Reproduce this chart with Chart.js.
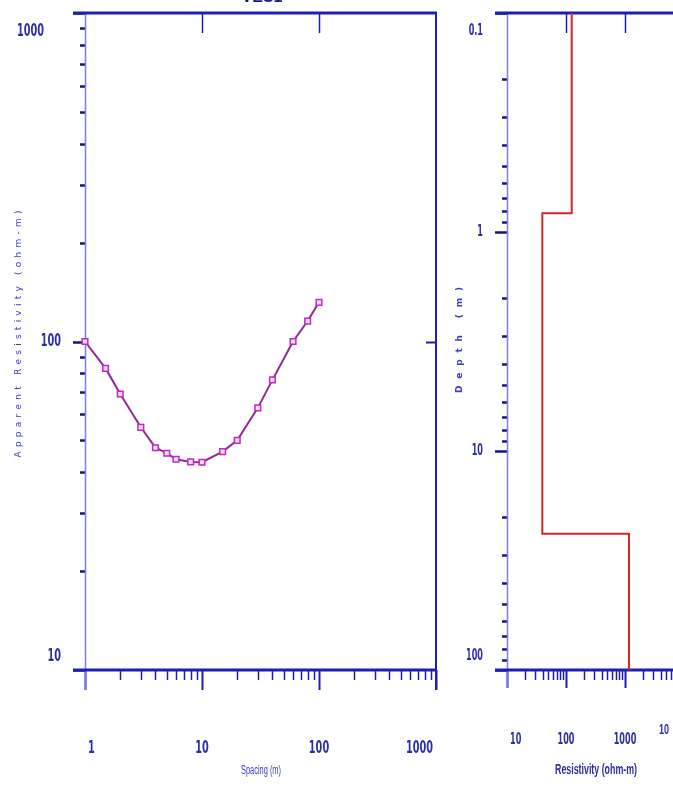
<!DOCTYPE html>
<html><head><meta charset="utf-8">
<script src="https://cdn.jsdelivr.net/npm/chart.js@4/dist/chart.umd.min.js"></script>
<style>
html,body{margin:0;padding:0;background:#fff;overflow:hidden;width:673px;height:787px}
#c1{position:absolute;left:0;top:0}
#c2{position:absolute;left:440px;top:0}
</style></head><body>
<canvas id="c1" width="460" height="787"></canvas>
<canvas id="c2" width="260" height="787"></canvas>
<script>
// ---- data ----
const plotTitle = 'VES1';
const spacing = [1, 1.5, 2, 3, 4, 5, 6, 8, 10, 15, 20, 30, 40, 60, 80, 100];
const apparentRes = [100, 82.8, 69.2, 54.8, 47.5, 45.7, 43.8, 43.0, 42.9, 46.2, 50.0, 62.8, 76.4, 100, 115.4, 131.6];
const spacingTickLabels = ['1', '10', '100', '1000'];
const appResTickLabels = ['10', '100', '1000'];
const layerRes = [125, 39.7, 1170];
const layerBottomDepth = [0.82, 23.9];
const depthTickLabels = ['0.1', '1', '10', '100'];
const resTickLabels = ['10', '100', '1000'];
const extraEdgeLabel = '10';

// ---- styles ----
const DARK = '#1e1eb6', NAVY = '#15157c', LIGHT = '#7c7cf2', TXT = '#2d2da8', TTL = '#3a3ad2';

function sq(ctx, text, x, y, font, color, sx, align) {
  ctx.save(); ctx.font = font; ctx.fillStyle = color; ctx.textBaseline = 'middle';
  ctx.translate(x, y); ctx.scale(sx, 1); ctx.textAlign = align || 'center';
  ctx.fillText(text, 0, 0); ctx.restore();
}
function sqFit(ctx, text, cx, cy, font, color, w) {
  ctx.save(); ctx.font = font; const m = ctx.measureText(text).width; ctx.restore();
  sq(ctx, text, cx, cy, font, color, w / m, 'center');
}
function spaced(ctx, text, cx, cy, len, font, color) {
  ctx.save(); ctx.font = font; ctx.fillStyle = color; ctx.textBaseline = 'middle'; ctx.textAlign = 'left';
  ctx.translate(cx, cy); ctx.rotate(-Math.PI / 2);
  const ch = [...text]; const ws = ch.map(c => ctx.measureText(c).width);
  const W = ws.reduce((a, b) => a + b, 0); const gap = (len - W) / (ch.length - 1);
  let p = -len / 2; ch.forEach((c, i) => { ctx.fillText(c, p, 0); p += ws[i] + gap; });
  ctx.restore();
}

function makeAxes(o) {
  return {
    id: 'axes_' + o.name,
    beforeDatasetsDraw(chart) {
      const ctx = chart.ctx, a = chart.chartArea, xs = chart.scales.x, ys = chart.scales.y;
      ctx.save(); ctx.lineCap = 'butt';
      const line = (x1, y1, x2, y2, c, w) => { ctx.strokeStyle = c; ctx.lineWidth = w; ctx.beginPath(); ctx.moveTo(x1, y1); ctx.lineTo(x2, y2); ctx.stroke(); };
      // x ticks
      for (let d = xs.min; d <= xs.max * 1.0001; d *= 10) {
        for (let k = 1; k < 10; k++) {
          const v = d * k; if (v > xs.max * 1.0001) break;
          const px = Math.round(xs.getPixelForValue(v)) + 0.5;
          if (k === 1) {
            line(px, a.bottom, px, a.bottom + o.majorLen, DARK, 2);
            if (px > a.left + 3 && px < a.right - 3) line(px, a.top, px, a.top + 20, DARK, 1.5);
          } else line(px, a.bottom, px, a.bottom + 10, DARK, 1.5);
        }
      }
      // y ticks
      const ylo = Math.min(ys.min, ys.max), yhi = Math.max(ys.min, ys.max);
      for (let d = ylo; d <= yhi * 1.0001; d *= 10) {
        for (let k = 1; k < 10; k++) {
          const v = d * k; if (v > yhi * 1.0001) break;
          const py = Math.round(ys.getPixelForValue(v)) + 0.5;
          if (k === 1) {
            line(a.left - 12, py, a.left, py, NAVY, 2.5);
            if (py > a.top + 3 && py < a.bottom - 3) line(a.right - 10, py, a.right, py, DARK, 2);
          } else line(a.left - 5, py, a.left, py, NAVY, 2.5);
        }
      }
      // axis lines
      const lineEnd = o.name === 'res' ? chart.width : a.right + 1;
      line(a.left + 0.5, a.top, a.left + 0.5, a.bottom + o.majorLen, LIGHT, 1.5);
      line(a.right, a.top, a.right, a.bottom + o.majorLen, DARK, 2);
      line(a.left - 12, a.top, lineEnd, a.top, DARK, 3);
      line(a.left - 12, a.bottom, lineEnd, a.bottom, DARK, 3);
      // x tick labels
      o.xLabels.forEach(t => {
        const px = xs.getPixelForValue(parseFloat(t));
        if (px <= a.left + 1) sq(ctx, t, px + 3, o.xLabelY, o.xFont, TXT, o.sx, 'left');
        else if (px >= a.right - 1) sq(ctx, t, a.right - 3, o.xLabelY, o.xFont, TXT, o.sx, 'right');
        else sq(ctx, t, px, o.xLabelY, o.xFont, TXT, o.sx, 'center');
      });
      // y tick labels
      o.yLabels.forEach(t => {
        let py = ys.getPixelForValue(parseFloat(t));
        py = Math.max(a.top + 18, Math.min(a.bottom - 14, py));
        let xr = a.left - o.yGap;
        if (o.topDx && py <= a.top + 18.5) xr -= o.topDx;
        sq(ctx, t, xr, py, o.yFont, TXT, o.sx, 'right');
      });
      o.extra && o.extra(ctx, a);
      ctx.restore();
    }
  };
}

const common = (pad, xmin, xmax, ymin, ymax, rev) => ({
  responsive: false, animation: false, devicePixelRatio: 1,
  layout: { padding: pad },
  plugins: { legend: { display: false }, tooltip: { enabled: false }, title: { display: false } },
  scales: {
    x: { type: 'logarithmic', min: xmin, max: xmax, display: false },
    y: { type: 'logarithmic', min: ymin, max: ymax, display: false, reverse: !!rev }
  }
});

// ---- chart 1: apparent resistivity vs spacing ----
new Chart(document.getElementById('c1'), {
  type: 'scatter',
  data: {
    datasets: [{
      data: spacing.map((x, i) => ({ x, y: apparentRes[i] })),
      showLine: true, tension: 0, clip: false,
      borderColor: '#8e2a92', borderWidth: 2,
      pointStyle: 'rect', pointRadius: 4,
      pointBorderColor: '#c02ac4', pointBackgroundColor: '#f4dcf4', pointBorderWidth: 1.5
    }]
  },
  options: common({ left: 85, top: 13, right: 24, bottom: 117 }, 1, 1000, 10, 1000, false),
  plugins: [makeAxes({
    name: 'app', majorLen: 20, xLabels: spacingTickLabels, yLabels: appResTickLabels.slice().reverse(),
    xLabelY: 748, xFont: 'bold 18px "Liberation Sans Narrow", "DejaVu Sans Condensed", sans-serif', sx: 0.6,
    yFont: 'bold 18px "Liberation Sans Narrow", "DejaVu Sans Condensed", sans-serif', yGap: 24, topDx: 17,
    extra: (ctx, a) => {
      spaced(ctx, 'Apparent Resistivity (ohm-m)', 19, 334, 247, '9px "DejaVu Sans", sans-serif', TTL);
      sqFit(ctx, 'Spacing (m)', 261, 771, '12px "Liberation Sans Narrow", sans-serif', TTL, 40);
      ctx.save(); ctx.font = 'bold 16px "Liberation Sans", sans-serif'; ctx.fillStyle = NAVY; ctx.textAlign = 'center';
      ctx.textBaseline = 'alphabetic'; ctx.fillText(plotTitle, 262, 2); ctx.restore();
    }
  })]
});

// ---- chart 2: layered model, depth vs resistivity ----
const topDepth = 0.1, bottomDepth = 100;
const bounds = [topDepth, ...layerBottomDepth, bottomDepth];
const modelPts = [];
layerRes.forEach((r, i) => { modelPts.push({ x: r, y: bounds[i] }); modelPts.push({ x: r, y: bounds[i + 1] }); });

new Chart(document.getElementById('c2'), {
  type: 'scatter',
  data: {
    datasets: [{
      data: modelPts, showLine: true, tension: 0, clip: false,
      borderColor: '#d42626', borderWidth: 2, pointRadius: 0
    }]
  },
  options: common({ left: 67, top: 13, right: 16, bottom: 117 }, 10, 10000, 0.1, 100, true),
  plugins: [makeAxes({
    name: 'res', majorLen: 18, xLabels: resTickLabels, yLabels: depthTickLabels,
    xLabelY: 740, xFont: 'bold 15px "Liberation Sans Narrow", "DejaVu Sans Condensed", sans-serif', sx: 0.6,
    yFont: 'bold 15px "Liberation Sans Narrow", "DejaVu Sans Condensed", sans-serif', yGap: 24,
    extra: (ctx, a) => {
      spaced(ctx, 'Depth (m)', 20, 340, 106, 'bold 9px "DejaVu Sans", sans-serif', TTL);
      sqFit(ctx, 'Resistivity (ohm-m)', 156, 770, 'bold 14px "Liberation Sans Narrow", sans-serif', TXT, 82);
      sq(ctx, extraEdgeLabel, 224, 730, 'bold 15px "Liberation Sans Narrow", sans-serif', TXT, 0.6, 'center');
    }
  })]
});
</script>
</body></html>
